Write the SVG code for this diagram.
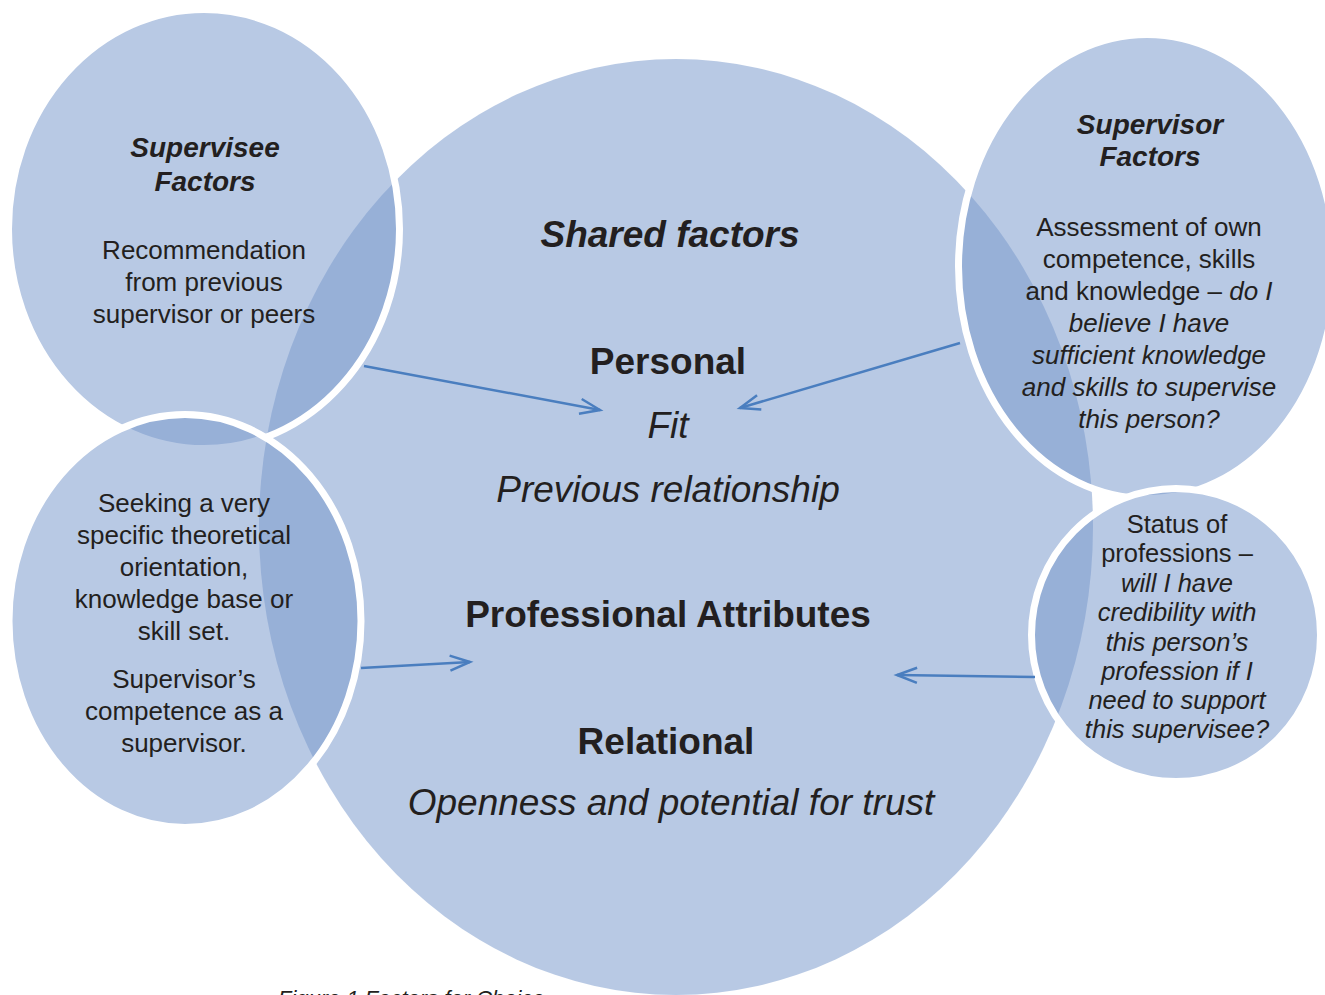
<svg xmlns="http://www.w3.org/2000/svg" width="1325" height="995" viewBox="0 0 1325 995">
  <style>
    .disc { fill: #7a9acc; fill-opacity: 0.535; }
    .ring { stroke: #ffffff; stroke-width: 7; }
    .t { font-family: "Liberation Sans", Arial, Helvetica, sans-serif; fill: #231f20; text-anchor: middle; }
    .head { font-size: 28px; font-weight: bold; font-style: italic; }
    .body { font-size: 26px; }
    .small { font-size: 25.5px; }
    .big { font-size: 37px; }
    .b { font-weight: bold; }
    .i { font-style: italic; }
    .conn { fill: none; stroke: #4a7ebf; stroke-width: 2.5; marker-end: url(#open); }
  </style>
  <defs>
    <marker id="open" markerUnits="userSpaceOnUse" markerWidth="26" markerHeight="20" refX="22" refY="9" orient="auto">
      <path d="M2,1.5 L22,9 L2,16.5" fill="none" stroke="#4a7ebf" stroke-width="2.5"/>
    </marker>
  </defs>

  <rect width="1325" height="995" fill="#ffffff"/>

  <!-- caption, partly hidden beneath the shared ellipse -->
  <text class="t i" x="278" y="1006" style="font-size:22px;text-anchor:start">Figure 1 Factors for Choice</text>

  <!-- shared factors -->
  <g id="shared">
    <ellipse class="disc" cx="676" cy="527" rx="417" ry="468"/>
    <text class="t b i" x="670" y="247" style="font-size:37px">Shared factors</text>
    <text class="t big b" x="668" y="374">Personal</text>
    <text class="t big i" x="668" y="438">Fit</text>
    <text class="t big i" x="668" y="502">Previous relationship</text>
    <text class="t big b" x="668" y="627">Professional Attributes</text>
    <text class="t big b" x="666" y="754">Relational</text>
    <text class="t big i" x="671" y="815">Openness and potential for trust</text>
  </g>

  <!-- supervisee factors -->
  <g id="supervisee">
    <ellipse class="disc ring" cx="204" cy="229" rx="195.5" ry="219.5"/>
    <text class="t head" x="205" y="157">Supervisee</text>
    <text class="t head" x="205" y="191">Factors</text>
    <text class="t body" x="204" y="259">Recommendation</text>
    <text class="t body" x="204" y="291">from previous</text>
    <text class="t body" x="204" y="323">supervisor or peers</text>
  </g>

  <!-- supervisee's further needs -->
  <g id="supervisee-needs">
    <ellipse class="disc ring" cx="185" cy="621" rx="176" ry="206.5"/>
    <text class="t body" x="184" y="512">Seeking a very</text>
    <text class="t body" x="184" y="544">specific theoretical</text>
    <text class="t body" x="184" y="576">orientation,</text>
    <text class="t body" x="184" y="608">knowledge base or</text>
    <text class="t body" x="184" y="640">skill set.</text>
    <text class="t body" x="184" y="688">Supervisor’s</text>
    <text class="t body" x="184" y="720">competence as a</text>
    <text class="t body" x="184" y="752">supervisor.</text>
  </g>

  <!-- supervisor factors -->
  <g id="supervisor">
    <ellipse class="disc ring" cx="1147" cy="266.5" rx="188.5" ry="232"/>
    <text class="t head" x="1150" y="134">Supervisor</text>
    <text class="t head" x="1150" y="166">Factors</text>
    <text class="t body" x="1149" y="236">Assessment of own</text>
    <text class="t body" x="1149" y="268">competence, skills</text>
    <text class="t body" x="1149" y="300">and knowledge – <tspan class="i">do I</tspan></text>
    <text class="t body i" x="1149" y="332">believe I have</text>
    <text class="t body i" x="1149" y="364">sufficient knowledge</text>
    <text class="t body i" x="1149" y="396">and skills to supervise</text>
    <text class="t body i" x="1149" y="428">this person?</text>
  </g>

  <!-- supervisor's professional standing -->
  <g id="status">
    <ellipse class="disc ring" cx="1176" cy="635" rx="144.5" ry="146.5"/>
    <text class="t small" x="1177" y="533">Status of</text>
    <text class="t small" x="1177" y="562">professions –</text>
    <text class="t small i" x="1177" y="592">will I have</text>
    <text class="t small i" x="1177" y="621">credibility with</text>
    <text class="t small i" x="1177" y="651">this person’s</text>
    <text class="t small i" x="1177" y="680">profession if I</text>
    <text class="t small i" x="1177" y="709">need to support</text>
    <text class="t small i" x="1177" y="738">this supervisee?</text>
  </g>

  <!-- connectors -->
  <g id="connectors">
    <line class="conn" x1="364" y1="366" x2="600" y2="410"/>
    <line class="conn" x1="960" y1="343" x2="740" y2="408"/>
    <line class="conn" x1="361" y1="668" x2="470" y2="662"/>
    <line class="conn" x1="1035" y1="677" x2="897" y2="675"/>
  </g>
</svg>
